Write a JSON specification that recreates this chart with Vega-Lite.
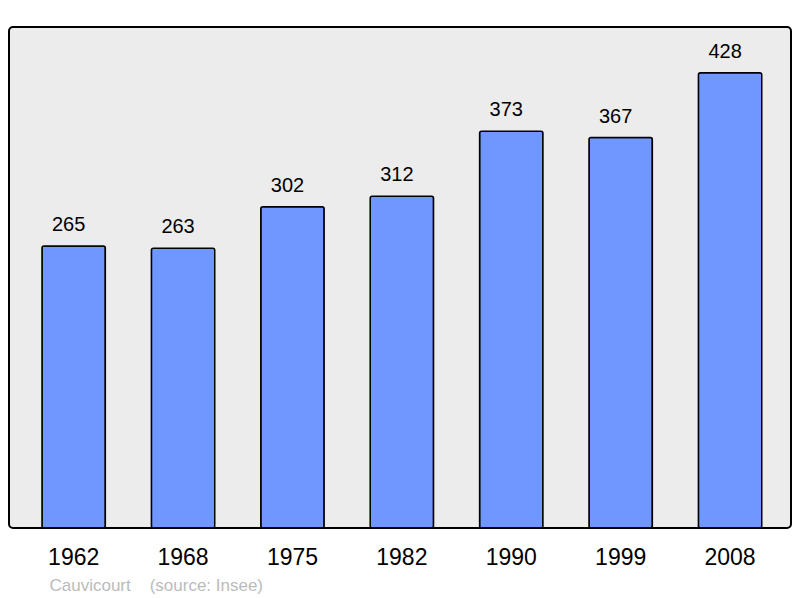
{
  "$schema": "https://vega.github.io/schema/vega-lite/v6.json",
  "autosize": "none",
  "width": 782,
  "height": 501,
  "padding": {"left": 9, "top": 27, "right": 9, "bottom": 70},
  "background": "white",
  "data": {
    "values": [
      {"year": "1962", "pop": 265},
      {"year": "1968", "pop": 263},
      {"year": "1975", "pop": 302},
      {"year": "1982", "pop": 312},
      {"year": "1990", "pop": 373},
      {"year": "1999", "pop": 367},
      {"year": "2008", "pop": 428}
    ]
  },
  "encoding": {
    "x": {
      "field": "year",
      "type": "ordinal",
      "sort": null,
      "scale": {"paddingInner": 0.421, "paddingOuter": 0.2845, "align": 0.53},
      "axis": {
        "title": "Cauvicourt\u00a0\u00a0\u00a0\u00a0(source: Insee)",
        "titleColor": "#bbbbbb",
        "titleFontSize": 17,
        "titleFontWeight": "normal",
        "titleFont": "Liberation Sans",
        "titleAnchor": "start",
        "titleAlign": "left",
        "titleBaseline": "alphabetic",
        "titleX": 40,
        "titleY": 62,
        "labelAngle": 0,
        "labelFont": "Liberation Sans",
        "labelFontSize": 23,
        "labelColor": "black",
        "labelPadding": 18,
        "ticks": false,
        "tickSize": 0,
        "domain": false,
        "grid": false
      }
    },
    "y": {
      "field": "pop",
      "type": "quantitative",
      "scale": {"domain": [0, 471], "nice": false},
      "axis": null
    }
  },
  "layer": [
    {
      "mark": {
        "type": "bar",
        "fill": "#7096ff",
        "stroke": "black",
        "strokeWidth": 1.5,
        "cornerRadius": 2
      }
    },
    {
      "mark": {
        "type": "text",
        "font": "Liberation Sans",
        "fontSize": 20,
        "color": "black",
        "baseline": "alphabetic",
        "dx": -5,
        "dy": -15
      },
      "encoding": {"text": {"field": "pop", "type": "quantitative"}}
    }
  ],
  "config": {
    "view": {
      "fill": "#ececec",
      "stroke": "black",
      "strokeWidth": 2,
      "cornerRadius": 4
    }
  }
}
